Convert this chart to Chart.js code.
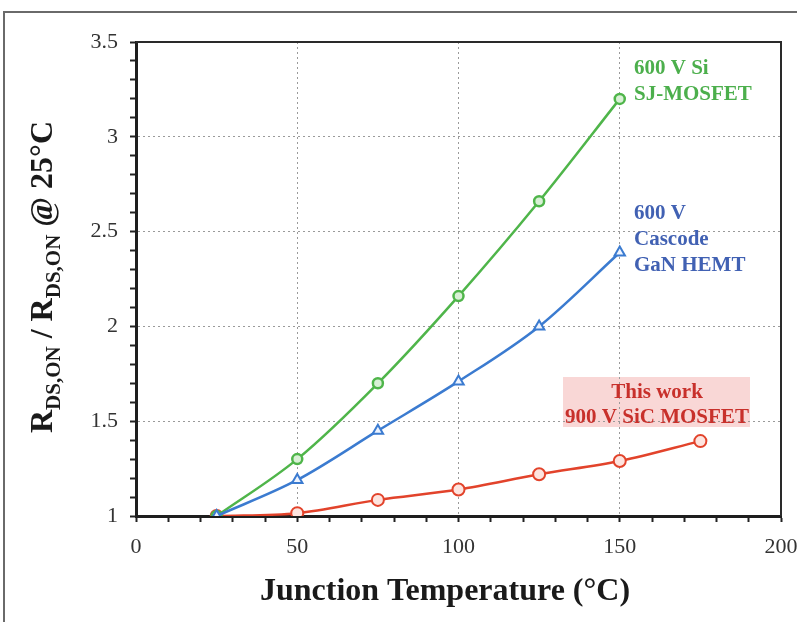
<!DOCTYPE html>
<html>
<head>
<meta charset="utf-8">
<script src="https://cdn.jsdelivr.net/npm/chart.js@4.4.0/dist/chart.umd.min.js"></script>
<style>
html,body{margin:0;padding:0;background:#fff;}
#wrap{width:797px;height:622px;position:relative;}
</style>
</head>
<body>
<div id="wrap"><canvas id="c" width="797" height="622"></canvas></div>
<script>
// ---- data ----
const temps = [25, 50, 75, 100, 125, 150, 175];
const siSJ = [1.00, 1.30, 1.70, 2.16, 2.66, 3.20];
const ganCascode = [1.00, 1.19, 1.45, 1.71, 2.00, 2.39];
const sicThisWork = [1.00, 1.015, 1.085, 1.14, 1.22, 1.29, 1.395];
const xTickLabels = ['0', '50', '100', '150', '200'];
const yTickLabels = ['1', '1.5', '2', '2.5', '3', '3.5'];
const labelSi = ['600 V Si', 'SJ-MOSFET'];
const labelGaN = ['600 V', 'Cascode', 'GaN HEMT'];
const labelSiC = ['This work', '900 V SiC MOSFET'];
const xTitle = 'Junction Temperature (\u00B0C)';

const toPts = (ys) => ys.map((y, i) => ({x: temps[i], y: y}));

const GREEN = '#4fb54a', BLUE = '#3b7bd0', RED = '#e2432b';
const SERIF = '"Liberation Serif", "DejaVu Serif", serif';

const decor = {
  id: 'decor',
  beforeDraw(chart) {
    const ctx = chart.ctx;
    ctx.save();
    ctx.fillStyle = '#fff';
    ctx.fillRect(0, 0, chart.width, chart.height);
    ctx.strokeStyle = '#6a6a6a';
    ctx.lineWidth = 2;
    ctx.beginPath();
    ctx.moveTo(4, 622); ctx.lineTo(4, 12); ctx.lineTo(797, 12);
    ctx.stroke();
    // pink box behind SiC label
    ctx.fillStyle = '#f9d7d6';
    ctx.fillRect(563, 377, 187, 50);
    ctx.restore();
  },
  afterDraw(chart) {
    const ctx = chart.ctx;
    const a = chart.chartArea;
    ctx.save();
    // top & right frame of plot
    ctx.strokeStyle = '#2a2a2a';
    ctx.lineWidth = 2;
    ctx.beginPath();
    ctx.moveTo(a.left, a.top); ctx.lineTo(a.right, a.top); ctx.lineTo(a.right, a.bottom);
    ctx.stroke();
    // x title
    ctx.fillStyle = '#1a1a1a';
    ctx.font = 'bold 32px ' + SERIF;
    ctx.textAlign = 'center';
    ctx.textBaseline = 'middle';
    ctx.fillText(xTitle, 445, 592);
    // y title with subscripts
    ctx.translate(41, 277);
    ctx.rotate(-Math.PI / 2);
    const big = 'bold 32px ' + SERIF, small = 'bold 21px ' + SERIF;
    const segs = [
      ['R', big, 0], ['DS,ON', small, 8], [' / R', big, 0], ['DS,ON', small, 8], [' @ 25\u00B0C', big, 0]
    ];
    let total = 0;
    segs.forEach(s => { ctx.font = s[1]; total += ctx.measureText(s[0]).width; });
    let x = -total / 2;
    ctx.textAlign = 'left';
    ctx.textBaseline = 'alphabetic';
    segs.forEach(s => {
      ctx.font = s[1];
      ctx.fillText(s[0], x, 11 + s[2]);
      x += ctx.measureText(s[0]).width;
    });
    ctx.restore();

    // series labels
    ctx.save();
    ctx.font = 'bold 21px ' + SERIF;
    ctx.textBaseline = 'middle';
    ctx.textAlign = 'left';
    ctx.fillStyle = '#4caf4c';
    labelSi.forEach((t, i) => ctx.fillText(t, 634, 69 + i * 26));
    ctx.fillStyle = '#4161b3';
    labelGaN.forEach((t, i) => ctx.fillText(t, 634, 214 + i * 26));
    ctx.fillStyle = '#c8302b';
    ctx.textAlign = 'center';
    labelSiC.forEach((t, i) => ctx.fillText(t, 657, 393 + i * 25));
    ctx.restore();
  }
};

new Chart(document.getElementById('c'), {
  type: 'line',
  data: {
    datasets: [
      {
        label: '600 V Cascode GaN HEMT', data: toPts(ganCascode),
        borderColor: BLUE, backgroundColor: '#ffffff', borderWidth: 2.5,
        pointStyle: 'triangle', pointRadius: 6, pointBorderWidth: 2,
        pointBorderColor: BLUE, pointBackgroundColor: '#eef4ff',
        cubicInterpolationMode: 'monotone'
      },
      {
        label: '600 V Si SJ-MOSFET', data: toPts(siSJ),
        borderColor: GREEN, backgroundColor: '#ffffff', borderWidth: 2.5,
        pointStyle: 'circle', pointRadius: 5, pointBorderWidth: 2.5,
        pointBorderColor: GREEN, pointBackgroundColor: '#d9f0d6',
        cubicInterpolationMode: 'monotone'
      },
      {
        label: 'This work 900 V SiC MOSFET', data: toPts(sicThisWork),
        borderColor: RED, backgroundColor: '#ffffff', borderWidth: 2.5,
        pointStyle: 'circle', pointRadius: 6, pointBorderWidth: 2,
        pointBorderColor: RED, pointBackgroundColor: '#fde4df',
        cubicInterpolationMode: 'monotone'
      }
    ]
  },
  options: {
    responsive: false,
    animation: false,
    layout: { padding: { left: 0, top: 42, right: 16, bottom: 0 } },
    plugins: { legend: { display: false }, tooltip: { enabled: false } },
    scales: {
      x: {
        type: 'linear', min: 0, max: 200,
        afterFit: (s) => { s.height = 106; s.paddingRight = 0; s.paddingLeft = 0; },
        border: { display: true, color: '#1e1e1e', width: 3, dash: [2, 3] },
        grid: {
          color: (c) => (c.tick && c.tick.value % 50 === 0 && c.tick.value > 0 && c.tick.value < 200) ? '#9a9a9a' : 'rgba(0,0,0,0)',
          lineWidth: 1,
          drawTicks: true, tickLength: 6, tickColor: '#222', tickWidth: 2, tickBorderDash: []
        },
        ticks: {
          stepSize: 10, autoSkip: false, maxRotation: 0, padding: 12,
          color: '#333', font: { family: SERIF, size: 22 },
          callback: (v) => (v % 50 === 0 ? xTickLabels[v / 50] : '')
        }
      },
      y: {
        type: 'linear', min: 1, max: 3.5,
        afterFit: (s) => { s.width = 136; s.paddingTop = 0; s.paddingBottom = 0; },
        border: { display: true, color: '#1e1e1e', width: 3, dash: [2, 3] },
        grid: {
          color: (c) => {
            if (!c.tick) return 'rgba(0,0,0,0)';
            const k = Math.round(c.tick.value * 10);
            return (k % 5 === 0 && k > 10 && k < 35) ? '#9a9a9a' : 'rgba(0,0,0,0)';
          },
          lineWidth: 1,
          drawTicks: true, tickLength: 6, tickColor: '#222', tickWidth: 2, tickBorderDash: []
        },
        ticks: {
          stepSize: 0.1, autoSkip: false, padding: 12,
          color: '#333', font: { family: SERIF, size: 22 },
          callback: (v) => {
            const k = Math.round(v * 10);
            return k % 5 === 0 ? yTickLabels[(k - 10) / 5] : '';
          }
        }
      }
    }
  },
  plugins: [decor]
});
</script>
</body>
</html>
